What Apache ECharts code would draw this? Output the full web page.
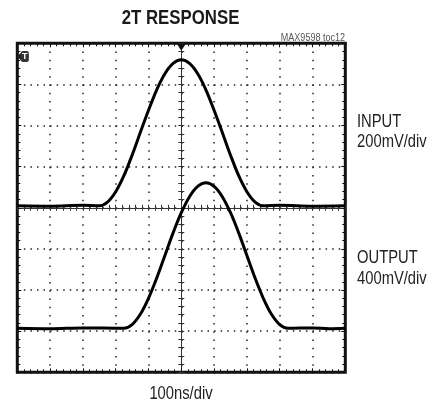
<!DOCTYPE html>
<html>
<head>
<meta charset="utf-8">
<script src="https://cdn.jsdelivr.net/npm/echarts@6/dist/echarts.min.js"></script>
<style>
html,body{margin:0;padding:0;background:#fff;}
#chart{width:444px;height:405px;}
</style>
</head>
<body>
<div id="chart"></div>
<script>
// x in divisions (100ns/div), 0 = screen centre; y in divisions, 0 = screen centre
const inputX = [-5, -4, -3, -2.5, -2.25, -2, -1.75, -1.5, -1.25, -1, -0.75, -0.5, -0.25, 0, 0.25, 0.5, 0.75, 1, 1.25, 1.5, 1.75, 2, 2.25, 2.5, 3, 4, 5];
const inputY = [0.05, 0.04, 0.06, 0.05, 0.14, 0.39, 0.78, 1.28, 1.83, 2.37, 2.87, 3.26, 3.51, 3.60, 3.51, 3.26, 2.87, 2.37, 1.83, 1.28, 0.78, 0.39, 0.14, 0.05, 0.06, 0.04, 0.05];
const outputX = [-5, -4, -3, -1.75, -1.5, -1.25, -1, -0.75, -0.5, -0.25, 0, 0.25, 0.5, 0.75, 1, 1.25, 1.5, 1.75, 2, 2.25, 2.5, 2.75, 3, 3.25, 4, 4.5, 5];
const outputY = [-2.93, -2.94, -2.92, -2.93, -2.84, -2.59, -2.20, -1.71, -1.16, -0.61, -0.12, 0.27, 0.52, 0.61, 0.52, 0.27, -0.12, -0.61, -1.16, -1.71, -2.20, -2.59, -2.84, -2.93, -2.92, -2.94, -2.93];
const titleText = '2T RESPONSE';
const noteText = 'MAX9598 toc12';
const inputLabel = ['INPUT', '200mV/div'];
const outputLabel = ['OUTPUT', '400mV/div'];
const timeLabel = '100ns/div';

const FONT = '"Liberation Sans", Arial, sans-serif';
const INK = '#111';
const NARROW = 0.82;

const chart = echarts.init(document.getElementById('chart'), null, {renderer: 'canvas'});

function centreX(inside) {
  return {
    type: 'value', min: -5, max: 5, interval: 1, position: 'bottom',
    axisLine: {show: true, onZero: true, onZeroAxisIndex: 0, lineStyle: {color: '#333', width: 1}},
    axisTick: {show: true, inside: inside, length: 3, lineStyle: {color: '#333', width: 1}},
    minorTick: {show: true, splitNumber: 5, length: 3, lineStyle: {color: '#333', width: 1}},
    axisLabel: {show: false}, splitLine: {show: false}
  };
}
function centreY(inside) {
  return {
    type: 'value', min: -4, max: 4, interval: 1, position: 'left',
    axisLine: {show: true, onZero: true, onZeroAxisIndex: 0, lineStyle: {color: '#333', width: 1}},
    axisTick: {show: true, inside: inside, length: 3, lineStyle: {color: '#333', width: 1}},
    minorTick: {show: true, splitNumber: 5, length: 3, lineStyle: {color: '#333', width: 1}},
    axisLabel: {show: false}, splitLine: {show: false}
  };
}
function edgeX(pos, split) {
  return {
    type: 'value', min: -5, max: 5, interval: 1, position: pos,
    axisLine: {show: false, onZero: false},
    axisTick: {show: true, inside: true, length: 4, lineStyle: {color: INK, width: 1}},
    minorTick: {show: true, splitNumber: 5, length: 3, lineStyle: {color: INK, width: 1}},
    axisLabel: {show: false},
    splitLine: {show: split, lineStyle: {color: '#222', width: 1.5, type: [1.5, 6.73]}}
  };
}
function edgeY(pos, split) {
  return {
    type: 'value', min: -4, max: 4, interval: 1, position: pos,
    axisLine: {show: false, onZero: false},
    axisTick: {show: true, inside: true, length: 4, lineStyle: {color: INK, width: 1}},
    minorTick: {show: true, splitNumber: 5, length: 3, lineStyle: {color: INK, width: 1}},
    axisLabel: {show: false},
    splitLine: {show: split, lineStyle: {color: '#222', width: 1.5, type: [1.5, 5.06]}}
  };
}
function txt(text, x, y, size, align, weight, color) {
  return {
    type: 'text', x: x, y: y, scaleX: NARROW, scaleY: 1,
    style: {text: text, font: (weight || 'normal') + ' ' + size + 'px ' + FONT, fill: color || '#222',
            align: align, verticalAlign: 'middle'}
  };
}

const option = {
  backgroundColor: '#fff',
  animation: false,
  grid: {left: 17.3, top: 43.3, width: 328, height: 329, show: true, borderColor: INK, borderWidth: 3, backgroundColor: 'transparent'},
  xAxis: [centreX(false), centreX(true), edgeX('bottom', true), edgeX('top', false)],
  yAxis: [centreY(false), centreY(true), edgeY('left', true), edgeY('right', false)],
  graphic: [
    txt(titleText, 180.5, 18, 20.5, 'center', 'bold', '#1a1a1a'),
    txt(noteText, 345, 37.5, 11, 'right', 'normal', '#555'),
    txt(inputLabel[0], 357, 122, 18, 'left'),
    txt(inputLabel[1], 357, 142.5, 18, 'left'),
    txt(outputLabel[0], 357, 258.5, 18, 'left'),
    txt(outputLabel[1], 357, 279, 18, 'left'),
    txt(timeLabel, 181, 394.5, 18, 'center')
  ],
  series: [
    {
      name: 'INPUT', type: 'line', xAxisIndex: 2, yAxisIndex: 2,
      data: inputX.map((x, i) => [x, inputY[i]]),
      smooth: 0.35, showSymbol: false, lineStyle: {color: '#000', width: 3}, z: 5,
      markPoint: {
        silent: true,
        data: [
          {coord: [0, 4], symbol: 'triangle', symbolRotate: 180, symbolSize: [9, 7], symbolOffset: [0, 4], itemStyle: {color: INK}, label: {show: false}},
          {coord: [-4.95, 3.68], symbol: 'triangle', symbolRotate: 90, symbolSize: [8, 5], itemStyle: {color: '#222'}, label: {show: false}},
          {coord: [-4.77, 3.68], symbol: 'roundRect', symbolSize: [8, 11], itemStyle: {color: '#333'},
           label: {show: true, formatter: 'T', color: '#fff', fontSize: 9, fontWeight: 'bold', fontFamily: 'Liberation Sans', position: 'inside'}}
        ]
      }
    },
    {
      name: 'OUTPUT', type: 'line', xAxisIndex: 2, yAxisIndex: 2,
      data: outputX.map((x, i) => [x, outputY[i]]),
      smooth: 0.35, showSymbol: false, lineStyle: {color: '#000', width: 3}, z: 5
    }
  ]
};
chart.setOption(option);
</script>
</body>
</html>
